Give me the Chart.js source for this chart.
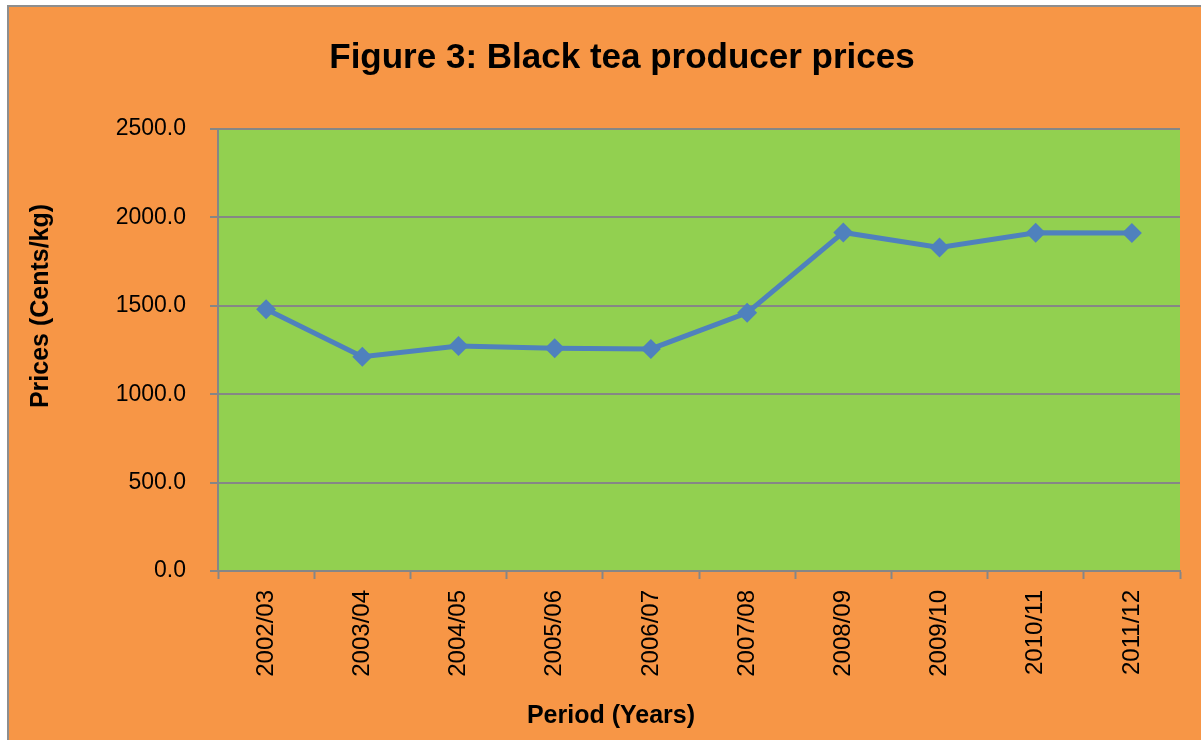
<!DOCTYPE html>
<html>
<head>
<meta charset="utf-8">
<script src="https://cdn.jsdelivr.net/npm/chart.js@4.4.1/dist/chart.umd.min.js"></script>
<style>
  html, body { margin: 0; padding: 0; background: #ffffff; }
  #frame {
    position: absolute; left: 7px; top: 5px;
    width: 1200px; height: 740px;
    background: #F79646; border: 2px solid #8e8e8e;
  }
  #wrap { position: absolute; left: 0; top: 0; width: 1201px; height: 740px; }
</style>
</head>
<body>
<div id="frame"></div>
<div id="wrap"><canvas id="myChart" width="1201" height="740"></canvas></div>
<script>
var periods = ['2002/03', '2003/04', '2004/05', '2005/06', '2006/07',
               '2007/08', '2008/09', '2009/10', '2010/11', '2011/12'];
var prices = [1480, 1212, 1273, 1260, 1256, 1460, 1915, 1830, 1913, 1912];
var yTicks = [0, 500, 1000, 1500, 2000, 2500];

var chartTitle = 'Figure 3: Black tea producer prices';
var xTitle = 'Period (Years)';
var yTitle = 'Prices (Cents/kg)';

// green plot area + hand placed axis titles (they sit off-centre in the original)
var plotDecor = {
    id: 'plotDecor',
    beforeDraw: function(chart) {
        var a = chart.chartArea;
        var ctx = chart.ctx;
        ctx.save();
        ctx.fillStyle = '#92D050';
        ctx.fillRect(a.left, a.top, a.right - a.left, a.bottom - a.top);
        ctx.restore();
    },
    afterDraw: function(chart) {
        var ctx = chart.ctx;
        ctx.save();
        ctx.fillStyle = '#000000';
        ctx.font = 'bold 25px "Liberation Sans", Arial, sans-serif';
        ctx.textAlign = 'center';
        ctx.textBaseline = 'alphabetic';
        ctx.fillText(xTitle, 611, 723);
        ctx.translate(48, 306);
        ctx.rotate(-Math.PI / 2);
        ctx.fillText(yTitle, 0, 0);
        ctx.restore();
    }
};

var ctx = document.getElementById('myChart').getContext('2d');
var chart = new Chart(ctx, {
    type: 'line',
    data: {
        labels: periods,
        datasets: [
            {
                label: 'Price',
                data: prices,
                borderColor: '#4F81BD',
                backgroundColor: '#4F81BD',
                borderWidth: 5,
                fill: false,
                tension: 0,
                pointStyle: 'rectRot',
                pointRadius: 10,
                pointBorderWidth: 0
            }
        ]
    },
    options: {
        responsive: false,
        animation: false,
        layout: {
            padding: { left: 64, right: 21, top: 0, bottom: 0 }
        },
        scales: {
            x: {
                offset: true,
                afterFit: function(scale) { scale.height = 169; },
                grid: {
                    offset: true,
                    drawOnChartArea: false,
                    color: '#868686',
                    tickLength: 8,
                    tickWidth: 2
                },
                border: { color: '#868686', width: 2 },
                ticks: {
                    minRotation: 90,
                    maxRotation: 90,
                    padding: 11,
                    color: '#000000',
                    font: { family: '"Liberation Sans", Arial, sans-serif', size: 24 }
                }
            },
            y: {
                min: 0,
                max: 2500,
                afterFit: function(scale) { scale.width = 154; },
                afterBuildTicks: function(scale) {
                    scale.ticks = yTicks.map(function(v) { return { value: v }; });
                },
                grid: {
                    color: '#868686',
                    lineWidth: 2,
                    tickLength: 8
                },
                border: { color: '#868686', width: 2 },
                ticks: {
                    padding: 24,
                    color: '#000000',
                    font: { family: '"Liberation Sans", Arial, sans-serif', size: 23 },
                    callback: function(value) { return value.toFixed(1); }
                }
            }
        },
        plugins: {
            legend: { display: false },
            tooltip: { enabled: false },
            title: {
                display: true,
                text: chartTitle,
                color: '#000000',
                padding: { top: 37, bottom: 50 },
                font: { family: '"Liberation Sans", Arial, sans-serif', size: 35, weight: 'bold' }
            }
        }
    },
    plugins: [plotDecor]
});
</script>
</body>
</html>
